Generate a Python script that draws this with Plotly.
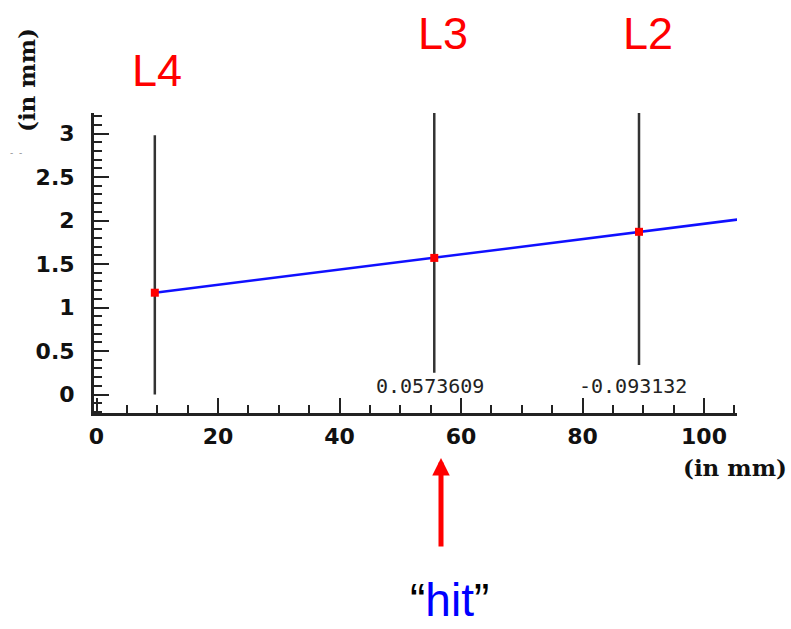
import numpy as np
import plotly.graph_objects as go

# ---- data ----
layer_names = ["L4", "L3", "L2"]
layer_x = [9.6, 55.6, 89.3]          # mm
hit_y = [1.17, 1.57, 1.87]           # mm
line_bottom = [0.0, 0.25, 0.34]
line_top = [2.98, 3.40, 3.40]
residual_labels = ["", "0.0573609", "-0.093132"]
x_ticks = [0, 20, 40, 60, 80, 100]
y_ticks = [0, 0.5, 1, 1.5, 2, 2.5, 3]
fit_x_end = 110.0

# straight-line fit through the hits
slope, intercept = np.polyfit(layer_x, hit_y, 1)
fit_x = [layer_x[0], fit_x_end]
fit_y = [slope * v + intercept for v in fit_x]

# plot-area geometry in page pixels (layout only)
PL, PR, PT, PB = 94, 737, 113, 413
X0PX, XSC = 96.5, 6.075
Y0PX, YSC = 394.5, 87.0
def dx(px):
    return (px - X0PX) / XSC
def dy(py):
    return (Y0PX - py) / YSC
def px_(px):
    return (px - PL) / (PR - PL)
def py_(py):
    return (PB - py) / (PB - PT)

fig = go.Figure()

for i, name in enumerate(layer_names):
    fig.add_trace(go.Scatter(
        x=[layer_x[i], layer_x[i]], y=[line_bottom[i], line_top[i]],
        mode="lines", line=dict(color="#333333", width=2.5),
        showlegend=False, hoverinfo="skip"))

fig.add_trace(go.Scatter(
    x=fit_x, y=fit_y, mode="lines",
    line=dict(color="#1010ff", width=2.5), showlegend=False))

fig.add_trace(go.Scatter(
    x=layer_x, y=hit_y, mode="markers",
    marker=dict(symbol="square", size=8, color="#ff0000"),
    showlegend=False))

tickfont = dict(family="DejaVu Sans", size=22, color="#111111", weight="bold")
fig.update_xaxes(
    range=[dx(PL), dx(PR)], tickvals=x_ticks,
    showline=True, linecolor="#222222", linewidth=3,
    ticks="inside", ticklen=15, tickwidth=2, tickcolor="#222222",
    minor=dict(dtick=5, ticks="inside", ticklen=8, tickwidth=2, tickcolor="#222222"),
    showgrid=False, zeroline=False, tickfont=tickfont, ticklabelstandoff=2)
fig.update_yaxes(
    range=[dy(PB), dy(PT)], tickvals=y_ticks,
    showline=True, linecolor="#222222", linewidth=3,
    ticks="inside", ticklen=15, tickwidth=2, tickcolor="#222222",
    minor=dict(dtick=0.1, ticks="inside", ticklen=8, tickwidth=2, tickcolor="#222222"),
    showgrid=False, zeroline=False, tickfont=tickfont, ticklabelstandoff=12)

ann = []
def add_text(x, y, text, font, **kw):
    d = dict(x=px_(x), y=py_(y), xref="paper", yref="paper", text=text,
             showarrow=False, xanchor="center", yanchor="middle", font=font)
    d.update(kw)
    ann.append(d)

label_px = [(157, 70), (443, 33), (648, 33)]
for name, (x, y) in zip(layer_names, label_px):
    add_text(x, y, name, dict(family="Liberation Sans", size=45, color="#ff0000"))

res_px = [None, 430, 633]
for lab, x in zip(residual_labels, res_px):
    if lab:
        add_text(x, 386, lab, dict(family="DejaVu Sans Mono", size=20, color="#222222"))

serif = dict(family="DejaVu Serif", size=23, color="#111111", weight="bold")
add_text(735, 467, "(in mm)", serif)
add_text(27, 80, "(in mm)", serif, textangle=-90)

# arrow pointing at the hit position
ann.append(dict(x=px_(441), y=py_(458), ax=0, ay=90, xref="paper", yref="paper",
                text="", showarrow=True, arrowhead=2,
                arrowsize=0.7, arrowwidth=5, arrowcolor="#ff0000"))
add_text(449, 628, '\u201c<span style="color:#0000ff">hit</span>\u201d',
         dict(family="Liberation Sans", size=46, color="#000000"), yanchor="bottom")
add_text(16, 153, "-  -", dict(family="DejaVu Sans", size=9, color="#888888"))

fig.update_layout(
    width=791, height=629, autosize=False,
    margin=dict(l=PL, r=791 - PR, t=PT, b=629 - PB),
    paper_bgcolor="white", plot_bgcolor="white",
    annotations=ann, showlegend=False)

fig.write_html("out.html", config={"displayModeBar": False},
               post_script="document.body.style.margin='0px';")
